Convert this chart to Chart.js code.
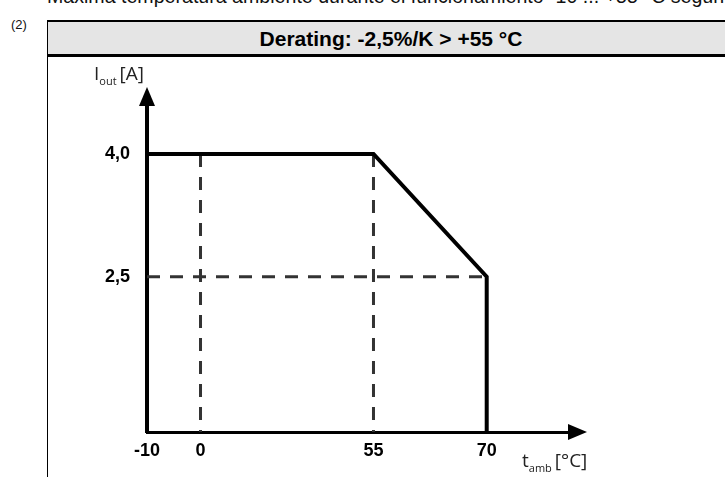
<!DOCTYPE html>
<html>
<head>
<meta charset="utf-8">
<script src="https://cdn.jsdelivr.net/npm/chart.js@4/dist/chart.umd.min.js"></script>
<style>
  html, body { margin: 0; padding: 0; background: #fff; overflow: hidden; }
  body { width: 725px; height: 477px; position: relative; font-family: "Liberation Sans", Arial, sans-serif; }
  #intro { position: absolute; left: 47px; top: -13px; font-size: 19.6px; line-height: 19px; color: #111; white-space: nowrap; }
  #note { position: absolute; left: 11px; top: 18px; font-size: 13px; line-height: 13px; color: #111; }
  #box { position: absolute; left: 47px; top: 20px; width: 700px; height: 470px; border-left: 1px solid #000; border-top: 2px solid #000; }
  #head { width: 686px; height: 32px; background: #e5e5e5; border-bottom: 3px solid #000; text-align: center; font-weight: bold; font-size: 21px; line-height: 33px; }
  canvas { position: absolute; left: 0; top: 0; }
</style>
</head>
<body>
<div id="intro">Máxima temperatura ambiente durante el funcionamiento -10 ... +55 °C según</div>
<div id="note">(2)</div>
<div id="box"><div id="head">Derating: -2,5%/K &gt; +55 °C</div></div>
<canvas id="chart" width="725" height="477"></canvas>
<script>
// 📦 DATA
const tempTicks = [-10, 0, 55, 70];
const currentTicks = [2.5, 4.0];

// courbe de derating
const derateTemp = [-10, 55, 70, 70];
const derateCurrent = [4.0, 4.0, 2.5, 0];

// lignes de repère (pointillés)
const guideTemp = [[0, 0], [55, 55], [-10, 70]];
const guideCurrent = [[4.0, 0], [4.0, 0], [2.5, 2.5]];

// 📐 échelle par morceaux (le schéma n'est pas à l'échelle)
const PIECES = {
  x: { values: [-10, 0, 55, 70, 85], fracs: [0, 0.1268, 0.5367, 0.805, 1] },
  y: { values: [0, 2.5, 4.0, 5.0], fracs: [0, 0.4749, 0.8502, 1] }
};

class PiecewiseScale extends Chart.LinearScale {
  getPixelForValue(value) {
    if (value === null || value === undefined) return NaN;
    const p = PIECES[this.id];
    let i = 0;
    while (i < p.values.length - 2 && value > p.values[i + 1]) i++;
    const t = (value - p.values[i]) / (p.values[i + 1] - p.values[i]);
    return this.getPixelForDecimal(p.fracs[i] + t * (p.fracs[i + 1] - p.fracs[i]));
  }
  getValueForPixel(pixel) {
    const p = PIECES[this.id];
    const d = this.getDecimalForPixel(pixel);
    let i = 0;
    while (i < p.fracs.length - 2 && d > p.fracs[i + 1]) i++;
    const t = (d - p.fracs[i]) / (p.fracs[i + 1] - p.fracs[i]);
    return p.values[i] + t * (p.values[i + 1] - p.values[i]);
  }
}
PiecewiseScale.id = "piecewise";
PiecewiseScale.defaults = Chart.LinearScale.defaults;
Chart.register(PiecewiseScale);

// ➡️ flèches + titres des axes
const arrowPlugin = {
  id: "arrows",
  afterDraw(chart) {
    const { ctx, chartArea: a } = chart;
    ctx.save();
    ctx.fillStyle = "#000";
    // flèche verticale
    ctx.beginPath();
    ctx.moveTo(a.left - 8, a.top + 1);
    ctx.lineTo(a.left + 8, a.top + 1);
    ctx.lineTo(a.left, a.top - 18);
    ctx.closePath();
    ctx.fill();
    // flèche horizontale
    ctx.beginPath();
    ctx.moveTo(a.right - 1, a.bottom - 8);
    ctx.lineTo(a.right - 1, a.bottom + 8);
    ctx.lineTo(a.right + 18, a.bottom);
    ctx.closePath();
    ctx.fill();

    ctx.fillStyle = "#222";
    ctx.textBaseline = "alphabetic";
    const sub = (x, y, main, low, rest) => {
      ctx.font = "19px 'Open Sans'";
      ctx.fillText(main, x, y);
      x += ctx.measureText(main).width;
      ctx.font = "11px 'Open Sans'";
      ctx.fillText(low, x, y + 5);
      x += ctx.measureText(low).width;
      ctx.font = "19px 'Open Sans'";
      ctx.fillText(rest, x + 3, y);
    };
    sub(a.left - 53, a.top - 25, "I", "out", "[A]");
    sub(a.right - 47, a.bottom + 35, "t", "amb", "[°C]");
    ctx.restore();
  }
};

const lineStyle = { pointRadius: 0, tension: 0, clip: false, showLine: true, fill: false };

const datasets = [{
  ...lineStyle,
  data: derateTemp.map((t, i) => ({ x: t, y: derateCurrent[i] })),
  borderColor: "#000",
  borderWidth: 4,
  borderJoinStyle: "miter",
  borderCapStyle: "butt"
}];

guideTemp.forEach((xs, k) => {
  datasets.push({
    ...lineStyle,
    data: xs.map((t, i) => ({ x: t, y: guideCurrent[k][i] })),
    borderColor: "#333",
    borderWidth: 3,
    borderDash: [13, 10]
  });
});

new Chart(document.getElementById("chart"), {
  type: "scatter",
  data: { datasets },
  options: {
    responsive: false,
    animation: false,
    events: [],
    layout: { padding: { left: 87, top: 105, right: 156, bottom: 5 } },
    plugins: { legend: { display: false }, tooltip: { enabled: false } },
    scales: {
      x: {
        type: "piecewise",
        min: -10,
        max: 85,
        afterFit: s => { s.height = 40; },
        afterBuildTicks: s => { s.ticks = tempTicks.map(v => ({ value: v })); },
        grid: { display: false, drawTicks: false },
        border: { display: true, color: "#000", width: 3 },
        ticks: {
          padding: 8,
          color: "#000",
          font: { family: "'Liberation Sans'", size: 18, weight: "bold" },
          callback: v => String(v)
        }
      },
      y: {
        type: "piecewise",
        min: 0,
        max: 5,
        afterFit: s => { s.width = 60; },
        afterBuildTicks: s => { s.ticks = currentTicks.map(v => ({ value: v })); },
        grid: { display: false, drawTicks: false },
        border: { display: true, color: "#000", width: 4 },
        ticks: {
          padding: 17,
          color: "#000",
          font: { family: "'Liberation Sans'", size: 18, weight: "bold" },
          callback: v => v.toFixed(1).replace(".", ",")
        }
      }
    }
  },
  plugins: [arrowPlugin]
});
</script>
</body>
</html>
